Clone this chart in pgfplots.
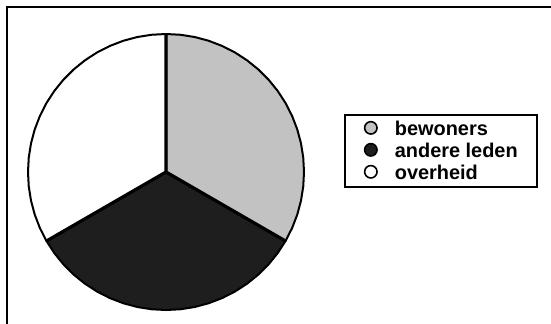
\documentclass[border=0pt]{standalone}
\usepackage{pgfplots}
\pgfplotsset{compat=1.18}
\usepackage{fontspec}
\setmainfont{Liberation Sans}
\definecolor{sgray}{HTML}{C2C2C2}
\definecolor{sblack}{HTML}{1E1E1E}
\newcommand{\lf}{\bfseries\fontsize{20}{21}\selectfont}
% shares (percent): bewoners 33.3, andere leden 33.3, overheid 33.3
% -> slices of 120 degrees each, starting at 90 degrees, clockwise
\begin{document}
\begin{tikzpicture}[x=1bp,y=1bp]
\path[use as bounding box] (0,0) rectangle (551,-323);
\draw[line width=2bp] (7,-324) -- (7,-7) -- (552,-7);
\begin{axis}[at={(28bp,-310bp)}, anchor=south west,
  x=138bp, y=138bp, xmin=-1, xmax=1, ymin=-1, ymax=1,
  hide axis, clip=false,
  legend cell align=left,
  legend style={at={(1.145,0.710)}, anchor=north west,
    draw=black, line width=1.6bp, fill=white,
    inner xsep=19bp, inner ysep=6bp,
    row sep=6bp, column sep=17bp,
    nodes={inner sep=0pt, font=\lf}},
]
\addplot[fill=sgray, draw=black, line width=2bp, line join=round, data cs=polar,
  legend image code/.code={\draw[fill=sgray, draw=black, line width=1.6bp] (0bp,1bp) circle (6.2bp);}]
  coordinates {(0,0) (90,1) (84,1) (78,1) (72,1) (66,1) (60,1) (54,1) (48,1) (42,1) (36,1) (30,1) (24,1) (18,1) (12,1) (6,1) (0,1) (-6,1) (-12,1) (-18,1) (-24,1) (-30,1) (0,0)};
\addlegendentry{\lf bewoners}
\addplot[fill=sblack, draw=black, line width=2bp, line join=round, data cs=polar,
  legend image code/.code={\draw[fill=sblack, draw=black, line width=1.6bp] (0bp,1bp) circle (6.2bp);}]
  coordinates {(0,0) (-30,1) (-36,1) (-42,1) (-48,1) (-54,1) (-60,1) (-66,1) (-72,1) (-78,1) (-84,1) (-90,1) (-96,1) (-102,1) (-108,1) (-114,1) (-120,1) (-126,1) (-132,1) (-138,1) (-144,1) (-150,1) (0,0)};
\addlegendentry{\lf andere leden}
\addplot[fill=white, draw=black, line width=2bp, line join=round, data cs=polar,
  legend image code/.code={\draw[fill=white, draw=black, line width=1.6bp] (0bp,1bp) circle (6.2bp);}]
  coordinates {(0,0) (-150,1) (-156,1) (-162,1) (-168,1) (-174,1) (-180,1) (-186,1) (-192,1) (-198,1) (-204,1) (-210,1) (-216,1) (-222,1) (-228,1) (-234,1) (-240,1) (-246,1) (-252,1) (-258,1) (-264,1) (-270,1) (0,0)};
\addlegendentry{\lf overheid}
% slice borders
\addplot[forget plot, draw=black, line width=3.2bp, line join=round, data cs=polar]
  coordinates {(90,1) (0,0) (-30,1)};
\addplot[forget plot, draw=black, line width=3.2bp, data cs=polar]
  coordinates {(0,0) (-150,1)};
\end{axis}
\end{tikzpicture}
\end{document}
